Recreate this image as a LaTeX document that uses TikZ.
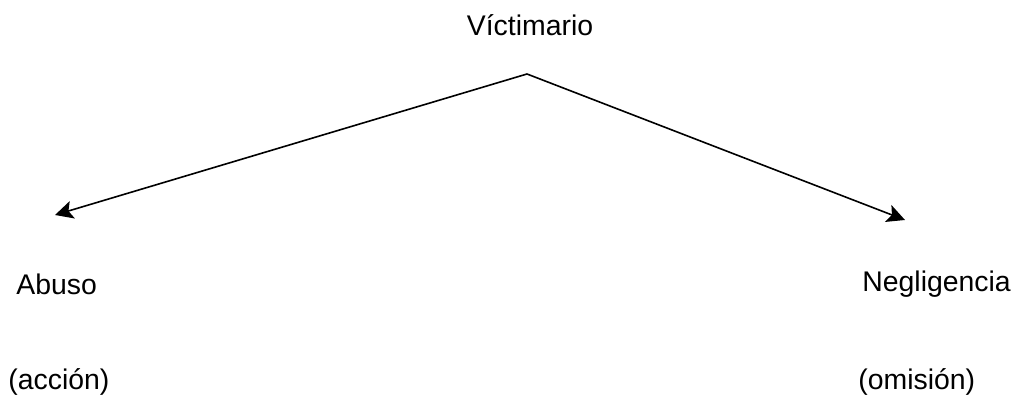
\documentclass[tikz,border=0pt]{standalone}
\usepackage{fontspec}
\setmainfont{Liberation Sans}
\usetikzlibrary{arrows.meta}
\tikzset{
	lbl/.style={inner sep=0pt, font=\fontsize{14.2}{17}\selectfont},
	flecha/.style={line width=0.8pt, -{Stealth[length=9pt,width=9pt,inset=2pt]}}
}

\begin{document}
\begin{tikzpicture}[x=0.5pt,y=-0.5pt]
				\useasboundingbox (0,0) rectangle (1017,399);
				
				\node[lbl] (vict) at (530,25) {Víctimario};
				\coordinate (apex) at (527,74);
				
				\node[lbl, anchor=west] (abuso) at (16,284) {Abuso};
				\node[lbl, anchor=west] (accion) at (8,382) {(acción)};
				\coordinate (izq) at (55,215);
				
				\node[lbl, anchor=west] (negl) at (862,284) {Negligencia};
				\node[lbl, anchor=west] (omision) at (858,382) {(omisión)};
				\coordinate (der) at (905,220);
				
				\draw[flecha] (apex) -- (izq);
				\draw[flecha] (apex) -- (der);
			\end{tikzpicture}
\end{document}
